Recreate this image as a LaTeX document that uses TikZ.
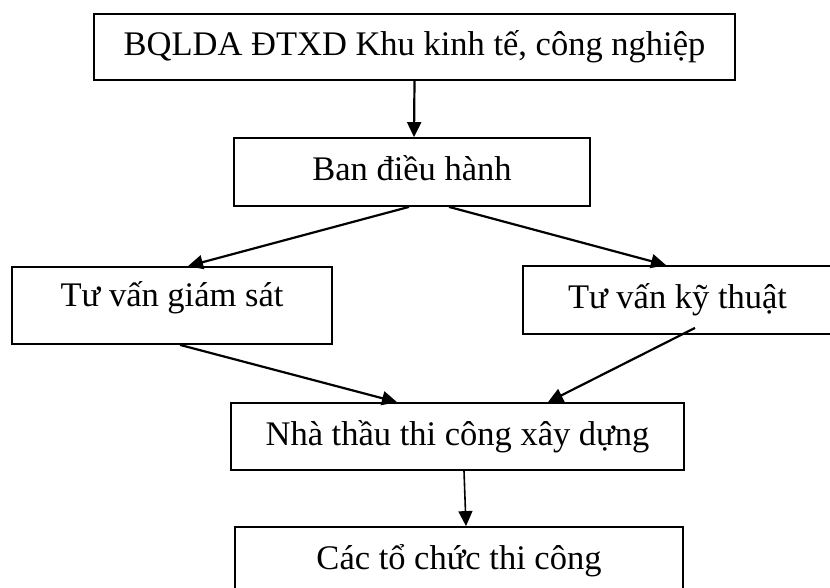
\documentclass[tikz,border=0pt]{standalone}
\usepackage{fontspec}
\setmainfont{Liberation Serif}
\usetikzlibrary{arrows.meta}
\tikzset{
  org box/.style={draw,line width=1.8pt,inner sep=0pt,text height=23pt,text depth=6pt,
    font=\fontsize{34.5}{40}\selectfont},
  org arrow/.style={-{Triangle[length=15pt,width=14pt]},line width=2.2pt},
  org thin/.style={org arrow,line width=1.6pt},
}
\begin{document}
\begin{tikzpicture}[x=1pt,y=-1pt]
  \useasboundingbox (0,0) rectangle (830,588);
  \node[org box,minimum width=641pt,minimum height=66pt] (bql) at (414.5,47) {BQLDA ĐTXD Khu kinh tế, công nghiệp};
  \node[org box,minimum width=356pt,minimum height=68pt] (ban) at (412,172) {Ban điều hành};
  \node[org box,minimum width=320pt,minimum height=77pt,text depth=21pt] (tvgs) at (172,305.5) {Tư vấn giám sát};
  \node[org box,minimum width=309pt,minimum height=68pt] (tvkt) at (677.5,300) {Tư vấn kỹ thuật};
  \node[org box,minimum width=453pt,minimum height=67pt] (ntxd) at (457.5,436.5) {Nhà thầu thi công xây dựng};
  \node[org box,minimum width=448pt,minimum height=68pt] (tctc) at (459,561) {Các tổ chức thi công};
  \draw[org arrow] (bql.south) -- ([xshift=2pt]ban.north);
  \draw[org arrow] ([xshift=-3pt]ban.south) -- ([xshift=16pt]tvgs.north);
  \draw[org arrow] ([xshift=37pt]ban.south) -- ([xshift=-11.5pt]tvkt.north);
  \draw[org arrow] ([xshift=8pt]tvgs.south) -- ([xshift=-60.5pt]ntxd.north);
  \draw[org arrow] ([shift={(17.5pt,7pt)}]tvkt.south) -- ([xshift=90.5pt]ntxd.north);
  \draw[org thin] ([xshift=6.5pt]ntxd.south) -- ([xshift=7pt]tctc.north);
\end{tikzpicture}
\end{document}
